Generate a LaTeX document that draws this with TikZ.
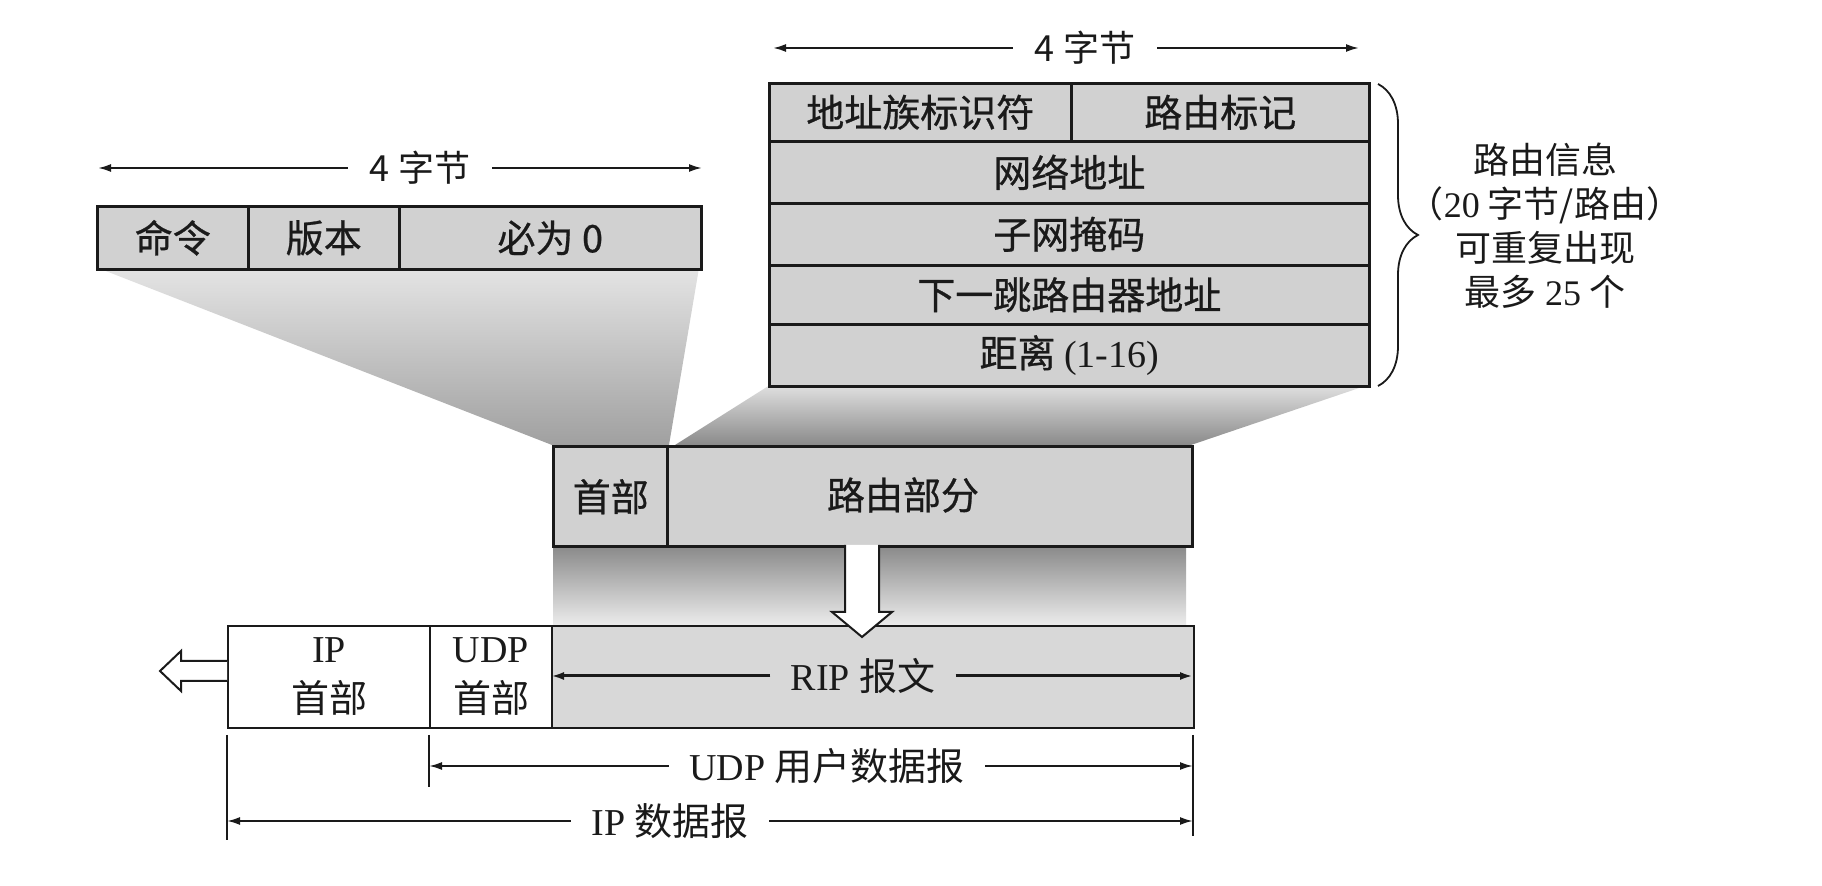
\documentclass[tikz,border=0pt]{standalone}
\usepackage{fontspec}
\setmainfont{Liberation Serif}
\newfontfamily\cjk{Noto Sans CJK SC}
\newfontfamily\cjkheavy{Noto Sans CJK SC}[FakeBold=0.7]
\usetikzlibrary{arrows.meta,decorations.pathreplacing}

\definecolor{ink}{HTML}{1A1A1A}
\definecolor{cellgray}{HTML}{D1D1D1}
\definecolor{ripgray}{HTML}{D8D8D8}
\definecolor{lwTop}{HTML}{E4E4E4}
\definecolor{lwBot}{HTML}{A0A0A0}
\definecolor{rwTop}{HTML}{E0E0E0}
\definecolor{rwBot}{HTML}{8A8A8A}
\definecolor{dnTop}{HTML}{888888}
\definecolor{dnMid}{HTML}{ADADAD}
\definecolor{dnBot}{HTML}{ECECEC}

\begin{document}
\begin{tikzpicture}[x=0.5pt,y=-0.5pt,
  cell/.style={draw=ink, fill=cellgray, line width=1.3pt, inner sep=0pt,
    anchor=north west, text=ink, font=\cjkheavy\fontsize{19pt}{23pt}\selectfont},
  heavycell/.style={cell, line width=1.7pt},
  bcell/.style={draw=ink, line width=1pt, inner sep=0pt, anchor=north west,
    minimum height=51pt, align=center, text=ink,
    font=\fontsize{19pt}{25pt}\selectfont},
  celltext/.style={inner sep=0pt, text=ink, font=\cjkheavy\fontsize{19pt}{23pt}\selectfont},
  toplabel/.style={inner xsep=11pt, inner ysep=0pt, text=ink,
    font=\cjk\fontsize{18pt}{22pt}\selectfont},
  dimlabel/.style={inner xsep=10pt, inner ysep=0pt, text=ink,
    font=\fontsize{19pt}{23pt}\selectfont},
  dimarrow/.style={draw=ink, line width=1pt, -{Latex[length=6.5pt,width=4pt]}},
  ripdim/.style={dimarrow, line width=1.5pt},
  extline/.style={draw=ink, line width=0.8pt},
  hollow/.style={draw=ink, line width=1pt, fill=white, line join=miter},
  bracestyle/.style={draw=ink, line width=0.9pt, decorate,
    decoration={brace, amplitude=20pt}},
  bracetext/.style={align=center, inner sep=0pt, text=ink,
    font=\cjk\fontsize{18pt}{22pt}\selectfont}
]
\useasboundingbox (0,0) rectangle (1822,886);

% projection wedges and the band under the RIP message
\shade[top color=lwTop, bottom color=lwBot]
  (98,268) -- (699,268) -- (669,445) -- (552,445) -- cycle;
\shade[top color=rwTop, bottom color=rwBot]
  (770,385) -- (1368,385) -- (1191,445) -- (675,445) -- cycle;
\shade[top color=dnTop, middle color=dnMid, bottom color=dnBot]
  (553,545) rectangle (1186,625);

% RIP header: 4 bytes
\node[toplabel] (w1) at (420,168) {4 字节};
\coordinate (w1a) at (98,168);
\coordinate (w1b) at (702,168);
\draw[dimarrow] (w1) -- (w1a);
\draw[dimarrow] (w1) -- (w1b);

\node[cell, minimum width=75.5pt, minimum height=31.5pt] (cmd)  at (96,205)  {命令};
\node[cell, minimum width=75.5pt, minimum height=31.5pt] (ver)  at (247,205) {版本};
\node[cell, minimum width=151pt,  minimum height=31.5pt] (zero) at (398,205) {必为 0};

% one route entry: 20 bytes
\node[toplabel] (w2) at (1085,48) {4 字节};
\coordinate (w2a) at (773,48);
\coordinate (w2b) at (1359,48);
\draw[dimarrow] (w2) -- (w2a);
\draw[dimarrow] (w2) -- (w2b);

\node[cell, minimum width=151pt, minimum height=29pt]   (afi)  at (768,82)  {地址族标识符};
\node[cell, minimum width=149pt, minimum height=29pt]   (tag)  at (1070,82) {路由标记};
\node[cell, minimum width=300pt, minimum height=31pt]   (net)  at (768,140) {网络地址};
\node[cell, minimum width=300pt, minimum height=31pt]   (mask) at (768,202) {子网掩码};
\node[cell, minimum width=300pt, minimum height=29.5pt] (hop)  at (768,264) {下一跳路由器地址};
\node[cell, minimum width=300pt, minimum height=31pt]   (dist) at (768,323) {距离 {\rmfamily (1-16)}};

\coordinate (bt) at (1378,84);
\coordinate (bb) at (1378,386);
\draw[bracestyle] (bt) -- (bb);
\node[bracetext] (info) at (1545,226)
  {路由信息\\（{\rmfamily 20} 字节/路由）\\可重复出现\\最多 {\rmfamily 25} 个};

% RIP message
\node[heavycell, minimum width=57pt,    minimum height=50pt] (hdr)    at (552,445) {首部};
\node[heavycell, minimum width=262.5pt, minimum height=50pt] (routes) at (666,445) {};
\node[celltext] (routestext) at (903,495) {路由部分};

% UDP / IP encapsulation
\node[bcell, fill=white,   minimum width=101pt] (iph)  at (227,625) {IP\\{\cjk 首部}};
\node[bcell, fill=white,   minimum width=61pt]  (udph) at (429,625) {UDP\\{\cjk 首部}};
\node[bcell, fill=ripgray, minimum width=321pt] (ripm) at (551,625) {};

\node[dimlabel] (ripl) at (863,676) {RIP {\cjk 报文}};
\coordinate (ripa) at (551,676);
\coordinate (ripb) at (1193,676);
\draw[ripdim] (ripl) -- (ripa);
\draw[ripdim] (ripl) -- (ripb);

% encapsulation arrow
\draw[hollow] (845,545) -- (845,612) -- (832,612) -- (862,637)
  -- (892,612) -- (879,612) -- (879,545);

% handed down to the IP layer
\draw[hollow] (227,661) -- (181,661) -- (181,651) -- (160,671)
  -- (181,691) -- (181,681) -- (227,681);

% extent lines
\coordinate (e1a) at (227,735);  \coordinate (e1b) at (227,840);
\coordinate (e2a) at (429,735);  \coordinate (e2b) at (429,787);
\coordinate (e3a) at (1193,735); \coordinate (e3b) at (1193,836);
\draw[extline] (e1a) -- (e1b);
\draw[extline] (e2a) -- (e2b);
\draw[extline] (e3a) -- (e3b);

\node[dimlabel] (udpl) at (827,766) {UDP {\cjk 用户数据报}};
\coordinate (udpa) at (429,766);
\coordinate (udpb) at (1193,766);
\draw[dimarrow] (udpl) -- (udpa);
\draw[dimarrow] (udpl) -- (udpb);

\node[dimlabel] (ipl) at (670,821) {IP {\cjk 数据报}};
\coordinate (ipa) at (227,821);
\coordinate (ipb) at (1193,821);
\draw[dimarrow] (ipl) -- (ipa);
\draw[dimarrow] (ipl) -- (ipb);
\end{tikzpicture}
\end{document}
